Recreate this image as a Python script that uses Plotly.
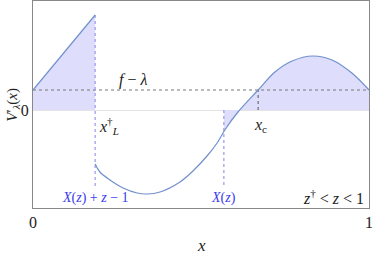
import numpy as np
import plotly.graph_objects as go

# data (y in units where f - lambda = 1)
seg1_x = [0.0, 0.185]
seg1_y = [1.0, 4.75]
seg2_x = [0.185, 0.199, 0.229, 0.268, 0.310, 0.339, 0.378, 0.4375, 0.476,
          0.518, 0.548, 0.571, 0.610, 0.670, 0.720, 0.771, 0.833, 0.890, 0.949, 1.0]
seg2_y = [-2.7, -3.1, -3.5, -3.9, -4.15, -4.2, -4.1, -3.6, -3.05,
          -2.3, -1.65, -1.0, -0.1, 1.0, 1.9, 2.45, 2.7, 2.5, 1.85, 1.0]
f_minus_lambda = 1.0
x_L = 0.185
X_z = 0.568
x_c = 0.670
label_bottom = -3.9

line_col = "#7090cc"
fill_col = "rgba(222,222,252,1)"
blue_txt = "#3c3cf0"
vline_col = "#a0a0ee"
serif = "Liberation Serif, Times New Roman, serif"

seg2_x = np.array(seg2_x)
seg2_y = np.array(seg2_y)
y_Xz = float(np.interp(X_z, seg2_x, seg2_y))
mask = seg2_x > X_z
fx = np.concatenate([[X_z], seg2_x[mask]])
fy = np.concatenate([[y_Xz], seg2_y[mask]])

fig = go.Figure()
# fills
fig.add_trace(go.Scatter(x=seg1_x, y=seg1_y, fill="tozeroy", fillcolor=fill_col,
                         line=dict(width=0), mode="lines", hoverinfo="skip"))
fig.add_trace(go.Scatter(x=fx, y=fy, fill="tozeroy", fillcolor=fill_col,
                         line=dict(width=0, shape="spline", smoothing=1.0), mode="lines", hoverinfo="skip"))
# f - lambda line
fig.add_trace(go.Scatter(x=[0, 1], y=[f_minus_lambda, f_minus_lambda], mode="lines",
                         line=dict(color="#777777", width=1, dash="dot")))
# vertical lines
fig.add_trace(go.Scatter(x=[x_L, x_L], y=[seg1_y[-1], label_bottom], mode="lines",
                         line=dict(color=vline_col, width=1.3, dash="dot")))
fig.add_trace(go.Scatter(x=[X_z, X_z], y=[0, label_bottom], mode="lines",
                         line=dict(color=vline_col, width=1.3, dash="dot")))
fig.add_trace(go.Scatter(x=[x_c, x_c], y=[0, f_minus_lambda], mode="lines",
                         line=dict(color="#555555", width=1, dash="dot")))
# curve
fig.add_trace(go.Scatter(x=seg1_x, y=seg1_y, mode="lines", line=dict(color=line_col, width=1.2)))
fig.add_trace(go.Scatter(x=seg2_x, y=seg2_y, mode="lines",
                         line=dict(color=line_col, width=1.2, shape="spline", smoothing=1.0)))

ann = [
    dict(x=0.298, y=1.5, text="<i>f</i> − <i>λ</i>", showarrow=False,
         font=dict(family=serif, size=16, color="#222")),
    dict(x=0.19, y=-0.8, text="<i>x</i><sup>†</sup><sub><i>L</i></sub>", showarrow=False, xanchor="left",
         font=dict(family=serif, size=16, color="#222")),
    dict(x=0.676, y=-0.75, text="<i>x</i><sub>c</sub>", showarrow=False,
         font=dict(family=serif, size=16, color="#222")),
    dict(x=x_L, y=-4.4, text="<i>X</i>(<i>z</i>) + <i>z</i> − 1", showarrow=False,
         font=dict(family=serif, size=14, color=blue_txt)),
    dict(x=X_z, y=-4.4, text="<i>X</i>(<i>z</i>)", showarrow=False,
         font=dict(family=serif, size=14, color=blue_txt)),
    dict(x=0.99, y=-4.35, text="<i>z</i><sup>†</sup> &lt; <i>z</i> &lt; 1", showarrow=False, xanchor="right",
         font=dict(family=serif, size=16, color="#222")),
    dict(xref="paper", yref="paper", x=-0.062, y=0.5, xanchor="center", yanchor="middle",
         text="<i>V</i>′<sub><i>λ</i></sub>(<i>x</i>)",
         showarrow=False, textangle=-90, font=dict(family=serif, size=15, color="#222")),
    dict(xref="paper", yref="paper", x=0.5, y=-0.18, yanchor="middle", text="<i>x</i>",
         showarrow=False, font=dict(family=serif, size=17, color="#222")),
]

fig.update_layout(
    width=374, height=257, margin=dict(l=33, r=5, t=1, b=49),
    paper_bgcolor="white", plot_bgcolor="white", showlegend=False,
    annotations=ann,
    xaxis=dict(range=[0, 1], tickvals=[0, 1], ticktext=["0", "1"], showgrid=False, zeroline=False,
               showline=True, linecolor="#888888", mirror=True, ticks="", ticklen=0, automargin=False,
               tickfont=dict(family=serif, size=16, color="#222")),
    yaxis=dict(range=[-4.9, 5.45], tickvals=[0], ticktext=["0"], showgrid=False, automargin=False,
               zeroline=True, zerolinecolor="#e4e4e4", zerolinewidth=1,
               showline=True, linecolor="#888888", mirror=True, ticks="",
               tickfont=dict(family=serif, size=16, color="#222")),
)

fig.write_html("out.html", config={"displayModeBar": False},
               post_script="document.body.style.margin='0';document.body.style.padding='0';")
